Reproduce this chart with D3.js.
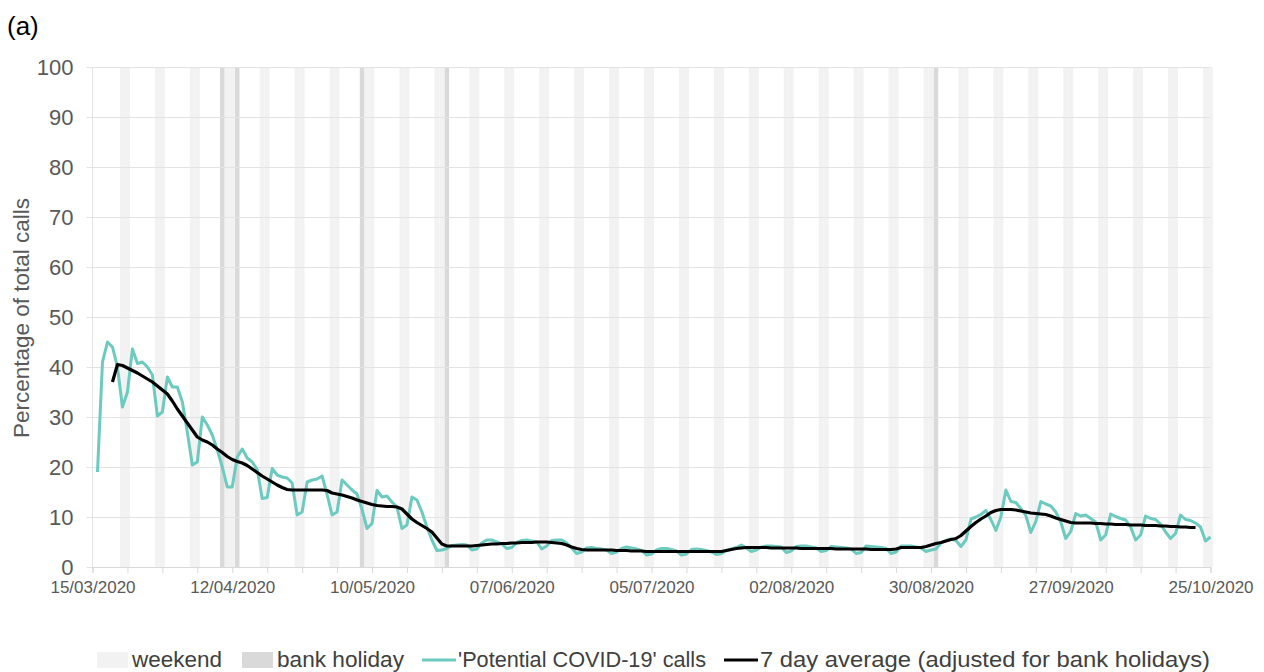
<!DOCTYPE html>
<html>

<head>
    <meta charset="utf-8">
    <style>
        body {
            margin: 0;
            background: #fff;
        }

        svg {
            font-family: 'Liberation Sans', Arial, sans-serif;
        }

        .y .tick text {
            font-size: 22px;
            fill: #595959;
        }

        .x .tick text {
            font-size: 17px;
            fill: #595959;
        }

        .legend text {
            font-size: 22px;
            fill: #404040;
        }
    </style>
</head>

<body>
    <svg width="1264" height="672"></svg>
</body>

<script src="https://d3js.org/d3.v7.min.js"></script>

<script>
    // first day of the daily series (Mon 16/03/2020)
    let callStart = "2020-03-16"

    // 'Potential COVID-19' calls, % of total calls, one value per day
    let callPct = [
        19, 41, 45, 44, 40, 32, 35,
        43.6, 40.7, 41, 40, 38.4, 30.2, 31,
        38, 36, 36, 33, 27, 20.4, 21,
        30, 28.4, 26.4, 23.4, 20, 16, 16,
        22, 23.6, 21.8, 21, 19.5, 13.7, 13.9,
        19.7, 18.4, 18, 17.8, 16.8, 10.4, 11,
        17, 17.4, 17.6, 18.2, 14.5, 10.4, 11,
        17.4, 16.4, 15.4, 14.6, 11.5, 7.7, 8.7,
        15.3, 14, 14.2, 13, 12, 7.7, 8.4,
        14, 13.4, 11, 8, 5.4, 3.3, 3.4,
        3.7, 4.3, 4.4, 4.5, 4.4, 3.4, 3.6,
        4.8, 5.4, 5.4, 5.0, 4.6, 3.7, 3.9,
        4.9, 5.3, 5.4, 5.2, 5.0, 3.6, 4.2,
        5.3, 5.4, 5.4, 4.8, 3.8, 2.7, 3.0,
        3.8, 3.9, 3.7, 3.6, 3.4, 2.7, 3.0,
        3.7, 4.0, 3.8, 3.6, 3.3, 2.4, 2.6,
        3.4, 3.7, 3.7, 3.5, 3.2, 2.4, 2.6,
        3.5, 3.6, 3.5, 3.3, 3.0, 2.5, 2.7,
        3.3, 3.6, 3.9, 4.4, 3.8, 3.1, 3.4,
        4.0, 4.2, 4.2, 4.1, 4.0, 2.9, 3.2,
        4.1, 4.2, 4.2, 4.0, 3.8, 3.1, 3.3,
        4.1, 4.0, 3.9, 3.8, 3.6, 2.7, 2.9,
        4.2, 4.1, 4.0, 3.9, 3.7, 2.7, 3.0,
        4.2, 4.2, 4.2, 4.0, 3.8, 3.1, 3.4,
        3.6, 4.8, 5.3, 5.6, 5.3, 4.1, 5.4,
        9.6, 10.0, 10.5, 11.3, 9.5, 7.3, 10.0,
        15.4, 13.1, 12.9, 11.7, 10.3, 6.9, 9.1,
        13.1, 12.6, 12.2, 11.0, 9.0, 5.7, 7.1,
        10.7, 10.2, 10.4, 9.7, 9.0, 5.4, 6.4,
        10.6, 10.1, 9.7, 9.4, 8.0, 5.4, 6.4,
        10.2, 9.7, 9.5, 8.6, 7.0, 5.7, 6.7,
        10.4, 9.5, 9.3, 8.8, 8.0, 5.2, 6.0
    ]

    // first day of the centred 7 day average (Thu 19/03/2020)
    let avgStart = "2020-03-19"

    let avgPct = [
        37.0, 40.5, 40.3, 39.8,
        39.3, 38.8, 38.2, 37.6, 37.0, 36.2, 35.4,
        34.6, 33.2, 31.6, 30.2, 28.8, 27.4, 26.0,
        25.4, 25.0, 24.4, 23.6, 22.9, 22.1, 21.5,
        21.1, 20.8, 20.3, 19.6, 18.9, 18.2, 17.6,
        17.0, 16.4, 15.9, 15.5, 15.4, 15.4, 15.4,
        15.4, 15.4, 15.4, 15.4, 15.3, 14.8, 14.6,
        14.4, 14.1, 13.8, 13.4, 13.1, 12.8, 12.5,
        12.3, 12.2, 12.1, 12.1, 12.0, 11.6, 10.6,
        9.6, 8.9, 8.3, 7.7, 7.0, 5.8, 4.6,
        4.2, 4.2, 4.2, 4.2, 4.2, 4.2, 4.3,
        4.4, 4.5, 4.6, 4.6, 4.7, 4.7, 4.8,
        4.8, 4.9, 4.9, 4.9, 5.0, 5.0, 5.0,
        4.9, 4.8, 4.7, 4.4, 4.0, 3.7, 3.5,
        3.4, 3.4, 3.4, 3.4, 3.4, 3.4, 3.3,
        3.3, 3.3, 3.2, 3.2, 3.2, 3.1, 3.1,
        3.1, 3.1, 3.1, 3.1, 3.1, 3.1, 3.1,
        3.1, 3.1, 3.1, 3.1, 3.1, 3.1, 3.1,
        3.3, 3.5, 3.7, 3.8, 3.9, 3.9, 3.9,
        3.9, 3.9, 3.8, 3.8, 3.8, 3.8, 3.8,
        3.8, 3.7, 3.7, 3.7, 3.7, 3.7, 3.7,
        3.7, 3.6, 3.6, 3.6, 3.6, 3.6, 3.6,
        3.6, 3.5, 3.5, 3.5, 3.5, 3.5, 3.6,
        3.9, 3.9, 3.9, 3.9, 3.9, 4.1, 4.4,
        4.7, 4.9, 5.2, 5.5, 5.7, 6.3, 7.2,
        8.1, 8.9, 9.6, 10.2, 10.9, 11.3, 11.5,
        11.5, 11.5, 11.4, 11.2, 11.0, 10.8, 10.7,
        10.6, 10.5, 10.2, 9.8, 9.5, 9.2, 8.9,
        8.8, 8.8, 8.8, 8.8, 8.7, 8.7, 8.6,
        8.6, 8.5, 8.5, 8.5, 8.4, 8.4, 8.4,
        8.3, 8.3, 8.3, 8.2, 8.2, 8.1, 8.1,
        8.0, 8.0, 7.9, 7.9
    ]

    let bankHolidays = ["2020-04-10", "2020-04-13", "2020-05-08", "2020-05-25", "2020-08-31"]

    let tickLabels = ["15/03/2020", "12/04/2020", "10/05/2020", "07/06/2020", "05/07/2020",
        "02/08/2020", "30/08/2020", "27/09/2020", "25/10/2020"]

    let yTicks = [0, 10, 20, 30, 40, 50, 60, 70, 80, 90, 100]

    let legendItems = ["weekend", "bank holiday", "'Potential COVID-19' calls",
        "7 day average (adjusted for bank holidays)"]

    let parse = d3.utcParse("%Y-%m-%d")
    let parseLabel = d3.utcParse("%d/%m/%Y")
    let fmtLabel = d3.utcFormat("%d/%m/%Y")

    let svg = d3.select("svg")

    let margin = { top: 67, right: 54, bottom: 105, left: 92.5 }
    let height = 672
    let plotRight = 1210.5

    let first = parseLabel(tickLabels[0])
    let last = parseLabel(tickLabels[tickLabels.length - 1])

    let x = d3.scaleUtc()
        .domain([first, last])
        .range([margin.left, plotRight])

    let y = d3.scaleLinear()
        .domain([0, 100])
        .range([height - margin.bottom, margin.top])

    let dayW = x(d3.utcDay.offset(first, 1)) - x(first)

    let calls = callPct.map((v, i) => ({ date: d3.utcDay.offset(parse(callStart), i), value: v }))
    let avg = avgPct.map((v, i) => ({ date: d3.utcDay.offset(parse(avgStart), i), value: v }))

    // weekend and bank holiday columns
    let allDays = d3.utcDay.range(d3.utcDay.offset(first, 1), d3.utcDay.offset(last, 1))
    let weekends = allDays.filter(d => d.getUTCDay() == 0 || d.getUTCDay() == 6)
    let holidays = bankHolidays.map(parse)

    svg.append("g")
        .selectAll("rect")
        .data(weekends)
        .join("rect")
        .attr("x", d => x(d) - dayW / 2)
        .attr("width", dayW)
        .attr("y", y(100))
        .attr("height", y(0) - y(100))
        .attr("fill", "#f2f2f2")

    svg.append("g")
        .selectAll("rect")
        .data(holidays)
        .join("rect")
        .attr("x", d => x(d) - dayW * 0.45)
        .attr("width", dayW * 0.9)
        .attr("y", y(100))
        .attr("height", y(0) - y(100))
        .attr("fill", "#d9d9d9")

    // y axis with gridlines
    let yAxis = svg.append("g")
        .attr("class", "y axis")
        .attr("transform", `translate(${margin.left},0)`)
        .call(d3.axisLeft(y)
            .tickValues(yTicks)
            .tickSize(6)
            .tickPadding(13))
        .call(g => g.select(".domain").remove())

    yAxis.selectAll(".tick line")
        .attr("x1", -6)
        .attr("x2", plotRight - margin.left)
        .attr("stroke", "#e3e3e3")
    yAxis.selectAll(".tick text").attr("x", -19)

    svg.append("line")
        .attr("x1", margin.left)
        .attr("x2", margin.left)
        .attr("y1", y(100))
        .attr("y2", y(0))
        .attr("stroke", "#e3e3e3")

    // x axis, weekly tick marks, labels every four weeks
    let xAxis = svg.append("g")
        .attr("class", "x axis")
        .attr("transform", `translate(0,${y(0)})`)
        .call(d3.axisBottom(x)
            .tickValues(d3.utcDay.range(first, d3.utcDay.offset(last, 1), 7))
            .tickSize(6)
            .tickPadding(8)
            .tickFormat(d => {
                let s = fmtLabel(d)
                return tickLabels.includes(s) ? s : ""
            }))

    xAxis.select(".domain").attr("stroke", "#d9d9d9")
    xAxis.selectAll(".tick line").attr("stroke", "#d9d9d9")

    // lines
    let line = d3.line()
        .x(d => x(d.date))
        .y(d => y(d.value))

    svg.append("path")
        .datum(calls)
        .attr("fill", "none")
        .attr("stroke", "#6ccabe")
        .attr("stroke-width", 3)
        .attr("stroke-linejoin", "round")
        .attr("d", line)

    svg.append("path")
        .datum(avg)
        .attr("fill", "none")
        .attr("stroke", "#000")
        .attr("stroke-width", 3.2)
        .attr("stroke-linejoin", "round")
        .attr("d", line)

    // titles
    svg.append("text")
        .attr("x", 7)
        .attr("y", 35)
        .style("font-size", "26px")
        .style("fill", "#000")
        .text("(a)")

    svg.append("text")
        .attr("transform", `translate(29,${(y(0) + y(100)) / 2 + 1}) rotate(-90)`)
        .attr("text-anchor", "middle")
        .style("font-size", "22.5px")
        .style("fill", "#595959")
        .text("Percentage of total calls")

    // legend
    let legend = svg.append("g").attr("class", "legend")
    let ly = 660
    let lx = [97, 242, 422, 724]
    let lw = [90, 127, 248, 450]

    legend.append("rect").attr("x", lx[0]).attr("y", ly - 8).attr("width", 31).attr("height", 16).attr("fill", "#f2f2f2")
    legend.append("rect").attr("x", lx[1]).attr("y", ly - 8).attr("width", 31).attr("height", 16).attr("fill", "#d9d9d9")
    legend.append("line").attr("x1", lx[2]).attr("x2", lx[2] + 34).attr("y1", ly).attr("y2", ly)
        .attr("stroke", "#6ccabe").attr("stroke-width", 3)
    legend.append("line").attr("x1", lx[3]).attr("x2", lx[3] + 34).attr("y1", ly).attr("y2", ly)
        .attr("stroke", "#000").attr("stroke-width", 3.2)

    legend.selectAll("text.item")
        .data(legendItems)
        .join("text")
        .attr("class", "item")
        .attr("x", (d, i) => lx[i] + (i < 2 ? 35 : 36))
        .attr("y", ly + 7)
        .attr("textLength", (d, i) => lw[i])
        .attr("lengthAdjust", "spacingAndGlyphs")
        .text(d => d)
</script>

</html>
